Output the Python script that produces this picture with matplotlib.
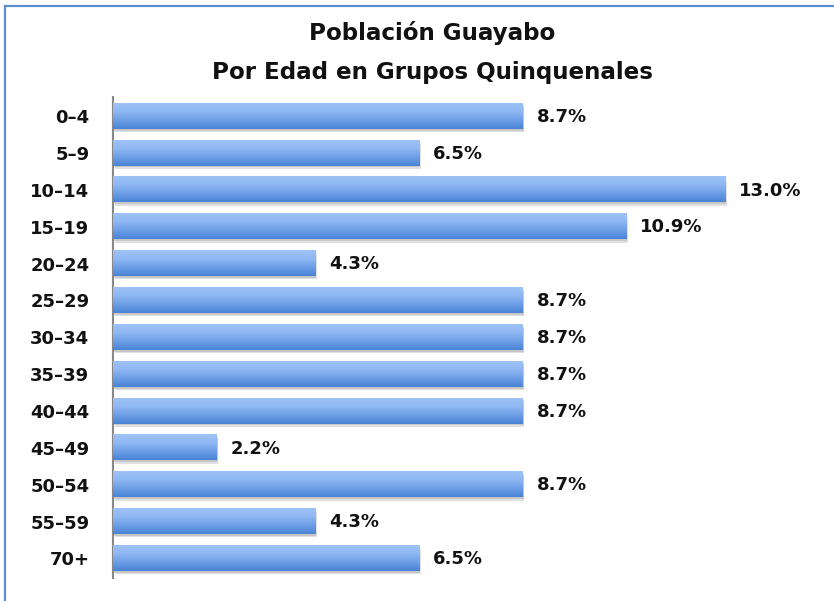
import numpy as np
import matplotlib
matplotlib.use("Agg")
import matplotlib.pyplot as plt
from matplotlib.patches import Rectangle
from matplotlib.colors import LinearSegmentedColormap

categories = ["0–4", "5–9", "10–14", "15–19", "20–24", "25–29", "30–34",
              "35–39", "40–44", "45–49", "50–54", "55–59", "70+"]
values = [8.7, 6.5, 13.0, 10.9, 4.3, 8.7, 8.7, 8.7, 8.7, 2.2, 8.7, 4.3, 6.5]
value_labels = ["8.7%", "6.5%", "13.0%", "10.9%", "4.3%", "8.7%", "8.7%",
                "8.7%", "8.7%", "2.2%", "8.7%", "4.3%", "6.5%"]
title = "Población Guayabo\nPor Edad en Grupos Quinquenales"

W, H = 834, 601
fig = plt.figure(figsize=(W / 100, H / 100), dpi=100)
fig.patch.set_facecolor("white")

# border
fig.add_artist(Rectangle((5 / W, -0.05), 1.2, 1 - 6 / H + 0.05, transform=fig.transFigure,
                         fill=False, edgecolor="#5b8fd0", linewidth=1.6))

px_per_unit = 47.08
ax_left, ax_right = 113, 810
ax_top, ax_bot = 97, 578
ax = fig.add_axes([ax_left / W, 1 - ax_bot / H, (ax_right - ax_left) / W, (ax_bot - ax_top) / H])
ax.patch.set_alpha(0)

y = np.arange(len(categories))
bh = 0.68

# shadow
ax.barh(y + 0.09, values, height=bh, left=0.04, color="#c8c8c8", alpha=0.55, zorder=1)
ax.barh(y + 0.05, values, height=bh, left=0.02, color="#b0b0b0", alpha=0.5, zorder=1)

bars = ax.barh(y, values, height=bh, color="#7aa7e8", zorder=2)
cmap = LinearSegmentedColormap.from_list("g", ["#9dc2f7", "#8fb7f2", "#6c9ee6", "#4a83d6"])
grad = np.linspace(0, 1, 64).reshape(-1, 1)
for b in bars:
    x0, y0 = b.get_x(), b.get_y()
    w, h = b.get_width(), b.get_height()
    ax.imshow(grad, cmap=cmap, aspect="auto", extent=(x0, x0 + w, y0 + h, y0),
              zorder=3, interpolation="bicubic")
ax.set_xlim(0, (ax_right - ax_left) / px_per_unit)
ax.set_ylim(len(categories) - 0.47, -0.52)

for yi, v, lab in zip(y, values, value_labels):
    ax.text(v + 0.3, yi + 0.02, lab, va="center", ha="left", fontsize=13,
            fontweight="bold", color="#111111", family="DejaVu Sans")

ax.set_yticks(y)
ax.set_yticklabels(categories, fontsize=13, fontweight="bold", color="#111111")
ax.tick_params(axis="y", length=0, pad=17)
ax.set_xticks([])
for s in ["top", "right", "bottom"]:
    ax.spines[s].set_visible(False)
ax.spines["left"].set_color("#888888")
ax.spines["left"].set_linewidth(1.5)

fig.text(432 / W, 1 - 33 / H, "Población Guayabo", ha="center", va="center", fontsize=16.6,
         color="#111111", fontweight="bold", family="DejaVu Sans")
fig.text(432 / W, 1 - 73 / H, "Por Edad en Grupos Quinquenales", ha="center", va="center",
         fontsize=16.6, color="#111111", fontweight="bold", family="DejaVu Sans")

fig.savefig("out.png", dpi=100)
